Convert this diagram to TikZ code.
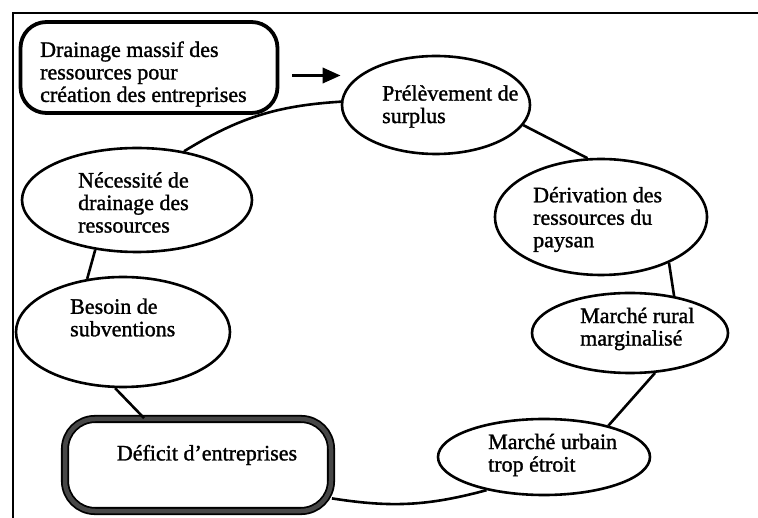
\documentclass[tikz,border=0pt]{standalone}
\usepackage{fontspec}
\setmainfont{Liberation Serif}
\newfontfamily\scanfont{Liberation Serif}[FakeBold=1.3]
\usetikzlibrary{shapes.geometric,arrows.meta}
\begin{document}
\begin{tikzpicture}[x=1pt,y=-1pt,
  ell/.style={ellipse,draw,line width=2.6pt,inner sep=0pt},
  txt/.style={font=\scanfont\fontsize{22}{22.5}\selectfont,align=left,inner sep=0pt,anchor=west},
  con/.style={line width=2.6pt},
  arr/.style={line width=3.4pt,-{Triangle[length=18pt,width=15pt]}}]
\useasboundingbox (0,0) rectangle (758,518);
\fill[white] (0,0) rectangle (758,518);
\draw[line width=2.5pt] (13,518) -- (13,13) -- (758,13);
% nodes
\node[draw,line width=3.8pt,rounded corners=26pt,minimum width=257pt,minimum height=91pt] (dra) at (149,67.5) {};
\node[ell,minimum width=188pt,minimum height=98pt] (pre) at (436,105) {};
\node[ell,minimum width=212pt,minimum height=116pt] (der) at (601,217) {};
\node[ell,minimum width=196pt,minimum height=80pt] (rur) at (630,333) {};
\node[ell,minimum width=212pt,minimum height=76pt] (urb) at (544,457) {};
\node[draw=black,line width=1.8pt,double=black!72,double distance=4.5pt,rounded corners=30pt,minimum width=266pt,minimum height=92pt] (def) at (198,465) {};
\node[ell,minimum width=214pt,minimum height=110pt] (bes) at (123,332) {};
\node[ell,minimum width=230pt,minimum height=104pt] (nec) at (137,200) {};
% texts
\node[txt] (drat) at (40,74) {Drainage massif des\\ressources pour\\création des entreprises};
\node[txt] (pret) at (382,106.5) {Prélèvement de\\surplus};
\node[txt] (dert) at (533,219.5) {Dérivation des\\ressources du\\paysan};
\node[txt] (rurt) at (580,329) {Marché rural\\marginalisé};
\node[txt] (urbt) at (488,455) {Marché urbain\\trop étroit};
\node[txt,anchor=center] (deft) at (207,455) {Déficit d’entreprises};
\node[txt] (best) at (70,317.5) {Besoin de\\subventions};
\node[txt] (nect) at (78,202.5) {Nécessité de\\drainage des\\ressources};
% connectors
\draw[arr] ([xshift=13pt,yshift=-8pt]dra.east) coordinate (as) -- (pre.west |- as);
\draw[con] (nec.46) to[bend left=14] (pre.178);
\draw[con] (pre.-13) -- (der.103);
\draw[con] (der.-34) -- (rur.40);
\draw[con] (rur.-58) -- (urb.26);
\draw[con] (urb.210) to[bend left=12] (def.-14);
\draw[con] (def.139) -- (bes.262);
\draw[con] (bes.124) -- (nec.230);
\end{tikzpicture}
\end{document}
